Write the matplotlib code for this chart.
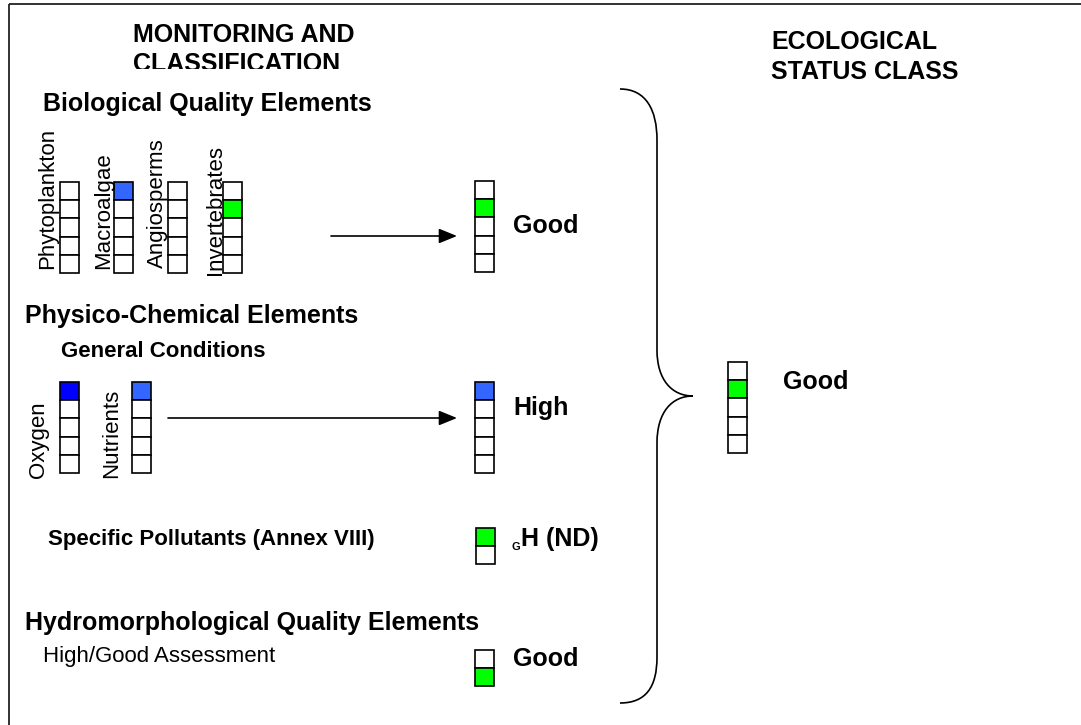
import matplotlib
matplotlib.use("Agg")
import matplotlib.pyplot as plt
from matplotlib.patches import Rectangle, PathPatch
from matplotlib.path import Path

plt.rcParams['font.family'] = ['Liberation Sans', 'DejaVu Sans']

# ---------------- data ----------------
bio_names = ["Phytoplankton", "Macroalgae", "Angiosperms", "Invertebrates"]
bio_level = [None, 0, None, 1]          # index of the filled box, 0 = top
phys_names = ["Oxygen", "Nutrients"]
phys_level = [0, 0]
group_titles = ["Biological Quality Elements", "Physico-Chemical Elements",
                "Specific Pollutants (Annex VIII)", "Hydromorphological Quality Elements"]
group_result = ["Good", "High", "H (ND)", "Good"]
group_level = [1, 0, 0, 1]
group_nbox = [5, 5, 2, 2]
overall_result = "Good"
overall_level = 1

# ---------------- styles / layout ----------------
bio_fill = [None, "#3366FF", None, "#00FF00"]
phys_fill = ["#0000FF", "#3366FF"]
group_fill = ["#00FF00", "#3366FF", "#00FF00", "#00FF00"]
overall_fill = "#00FF00"

BW, BH = 18.5, 18.2
bio_x = [60, 114, 168, 223]
bio_lab_x = [53.5, 108.7, 162.7, 221]
bio_lab_y = [268.5, 268.5, 267.5, 275]
phys_x = [60, 132]
phys_lab_x = [44.3, 117]
res_x = [475, 475, 476, 475]
res_y = [181, 382, 528, 650]

fig = plt.figure(figsize=(10.81, 7.25), dpi=100)
ax = fig.add_axes([0, 0, 1, 1])
ax.set_xlim(0, 1081)
ax.set_ylim(725, 0)
ax.axis('off')


def column(x, y, n, level, fill):
    for i in range(n):
        fc = fill if (level is not None and i == level) else 'white'
        ax.add_patch(Rectangle((x, y + i * BH), BW, BH, facecolor=fc,
                               edgecolor='black', lw=1.2, zorder=3))


def txt(x, y, s, size, bold=True, **kw):
    return ax.text(x, y, s, fontsize=size, fontweight='bold' if bold else 'normal',
                   ha='left', va='baseline', color='black', **kw)


# frame
ax.plot([9, 9], [725, 4], color='#222222', lw=1.3, solid_capstyle='butt')
ax.plot([9, 1081], [4, 4], color='#222222', lw=1.3, solid_capstyle='butt')

# headings
txt(133, 42, "MONITORING AND", 18)
t = txt(133, 71, "CLASSIFICATION", 18)
clip = Rectangle((0, 0), 1081, 68.5, transform=ax.transData)
t.set_clip_on(True)
t.set_clip_path(clip)
txt(771, 49, "ECOLOGICAL", 18)
txt(771, 79, "STATUS CLASS", 18)

# biological
txt(43, 111, group_titles[0], 18)
for i, name in enumerate(bio_names):
    column(bio_x[i], 182, 5, bio_level[i], bio_fill[i])
    ax.text(bio_lab_x[i], bio_lab_y[i], name, fontsize=16, rotation=90,
            rotation_mode='anchor', ha='left', va='baseline', zorder=4)

# physico-chemical
txt(25, 323, group_titles[1], 18)
txt(61, 357, "General Conditions", 16)
for i, name in enumerate(phys_names):
    column(phys_x[i], 382, 5, phys_level[i], phys_fill[i])
    ax.text(phys_lab_x[i], 478, name, fontsize=16, rotation=90,
            rotation_mode='anchor', ha='left', va='baseline')

# specific pollutants / hydromorphology
txt(48, 545, group_titles[2], 16)
txt(25, 630, group_titles[3], 18)
txt(43, 662, "High/Good Assessment", 16, bold=False)

# arrows
arrow = dict(arrowstyle='-|>,head_length=1.1,head_width=0.45', mutation_scale=10,
             lw=1.2, color='black', shrinkA=0, shrinkB=0)
ax.annotate('', xy=(457, 236), xytext=(331, 236), arrowprops=arrow)
ax.annotate('', xy=(457, 418), xytext=(168, 418), arrowprops=arrow)

# group results
res_base = [233, 415, 546, 666]
for i in range(4):
    column(res_x[i], res_y[i], group_nbox[i], group_level[i], group_fill[i])
    if i == 2:
        txt(512, 550, "G", 8)
        txt(521, res_base[i], group_result[i], 18)
    else:
        txt(513, res_base[i], group_result[i], 18)

# brace
verts = [(620, 89), (646, 89), (657, 110), (657, 140),
         (657, 350),
         (657, 380), (672, 396), (693, 396),
         (672, 396), (657, 412), (657, 443),
         (657, 657),
         (657, 687), (646, 703), (620, 703)]
codes = [Path.MOVETO, Path.CURVE4, Path.CURVE4, Path.CURVE4,
         Path.LINETO,
         Path.CURVE4, Path.CURVE4, Path.CURVE4,
         Path.CURVE4, Path.CURVE4, Path.CURVE4,
         Path.LINETO,
         Path.CURVE4, Path.CURVE4, Path.CURVE4]
ax.add_patch(PathPatch(Path(verts, codes), facecolor='none', edgecolor='black', lw=1.2))

# overall class
column(728, 362, 5, overall_level, overall_fill)
txt(783, 389, overall_result, 18)

fig.savefig("out.png", dpi=100)
